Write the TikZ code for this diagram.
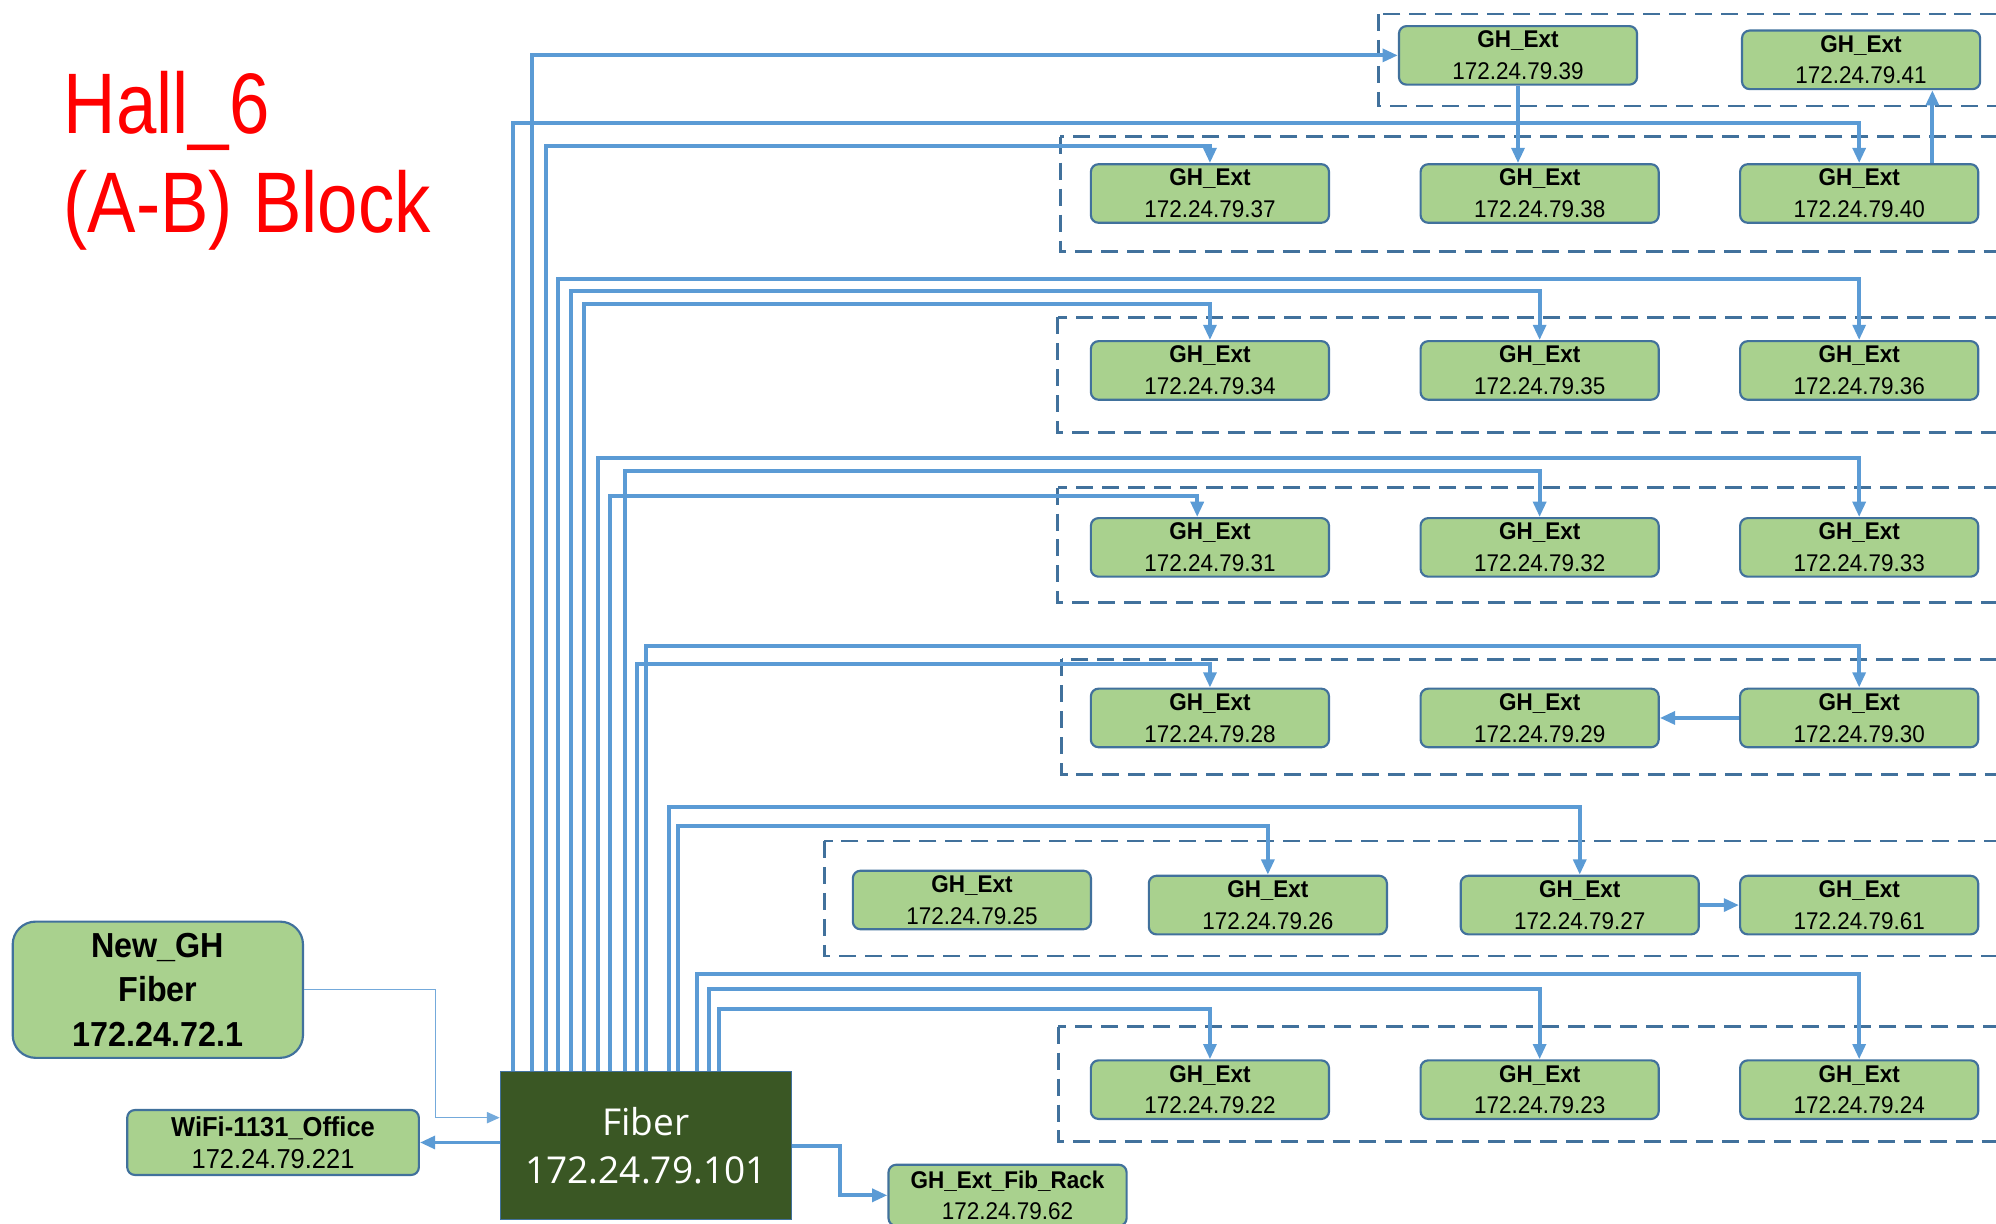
\documentclass[tikz,border=0pt]{standalone}
\usepackage{fontspec}
\usetikzlibrary{arrows.meta,calc}
\newfontfamily\boxfont[FakeStretch=0.93]{Liberation Sans}
\newfontfamily\titlefont[FakeStretch=0.845]{Liberation Sans}
\newfontfamily\fiberfont{Open Sans}
\definecolor{boxgreen}{HTML}{A9D18E}
\definecolor{boxborder}{HTML}{41719C}
\definecolor{connblue}{HTML}{5B9BD5}
\definecolor{grpblue}{HTML}{41719C}
\definecolor{fibgreen}{HTML}{3A5724}
\definecolor{titlered}{HTML}{FF0000}
\begin{document}
\begin{tikzpicture}[x=0.025cm,y=-0.025cm,
  gh/.style={rectangle, rounded corners=0.15cm, draw=boxborder, line width=1.2pt,
    fill=boxgreen, minimum width=4.675cm, minimum height=1.15cm, inner sep=0pt,
    align=center, font=\boxfont\fontsize{13.5}{17.7}\selectfont},
  bigbox/.style={gh, rounded corners=0.45cm, minimum width=5.7cm, minimum height=2.675cm,
    font=\boxfont\fontsize{19.4}{25}\selectfont\bfseries},
  wifibox/.style={gh, minimum width=5.725cm, minimum height=1.275cm,
    font=\boxfont\fontsize{15.3}{18}\selectfont},
  rackbox/.style={gh, minimum width=4.675cm, minimum height=1.2cm},
  fibbox/.style={rectangle, draw=boxborder, line width=0.6pt, fill=fibgreen,
    minimum width=5.725cm, minimum height=2.9cm, inner sep=0pt, align=center,
    text=white, font=\fiberfont\fontsize{20.7}{27.3}\selectfont},
  grp/.style={draw=grpblue, line width=1.6pt, dash pattern=on 9.5pt off 5pt},
  conn/.style={draw=connblue, line width=2.2pt, -{Triangle[length=0.3cm,width=0.25cm]}},
  thinconn/.style={draw=connblue!85, line width=0.7pt, -{Triangle[length=0.25cm,width=0.22cm]}},
  titletext/.style={anchor=base west, inner sep=0pt, text=titlered,
    font=\titlefont\fontsize{48}{55.7}\selectfont}
]
\useasboundingbox (0,0) rectangle (1568,961);

% title
\node[titletext] (title1) at (49.7,104.6) {Hall\_6};
\node[titletext] (title2) at (49.7,183) {(A-B) Block};

% dashed groups
\draw[grp] (1083,11) rectangle (1580,83.3);
\draw[grp] (833,107.4) rectangle (1580,197.7);
\draw[grp] (831,249.3) rectangle (1580,340);
\draw[grp] (831,383) rectangle (1580,473.5);
\draw[grp] (834,518) rectangle (1580,608.3);
\draw[grp] (647.6,660.7) rectangle (1580,751);
\draw[grp] (831.3,806.5) rectangle (1580,896.8);

% boxes
\node[gh] (g39) at (1192.5,43.5) {\textbf{GH\_Ext}\\172.24.79.39};
\node[gh] (g41) at (1462,47) {\textbf{GH\_Ext}\\172.24.79.41};
\node[gh] (g37) at (950.5,152) {\textbf{GH\_Ext}\\172.24.79.37};
\node[gh] (g38) at (1209.5,152) {\textbf{GH\_Ext}\\172.24.79.38};
\node[gh] (g40) at (1460.5,152) {\textbf{GH\_Ext}\\172.24.79.40};
\node[gh] (g34) at (950.5,291) {\textbf{GH\_Ext}\\172.24.79.34};
\node[gh] (g35) at (1209.5,291) {\textbf{GH\_Ext}\\172.24.79.35};
\node[gh] (g36) at (1460.5,291) {\textbf{GH\_Ext}\\172.24.79.36};
\node[gh] (g31) at (950.5,430) {\textbf{GH\_Ext}\\172.24.79.31};
\node[gh] (g32) at (1209.5,430) {\textbf{GH\_Ext}\\172.24.79.32};
\node[gh] (g33) at (1460.5,430) {\textbf{GH\_Ext}\\172.24.79.33};
\node[gh] (g28) at (950.5,564) {\textbf{GH\_Ext}\\172.24.79.28};
\node[gh] (g29) at (1209.5,564) {\textbf{GH\_Ext}\\172.24.79.29};
\node[gh] (g30) at (1460.5,564) {\textbf{GH\_Ext}\\172.24.79.30};
\node[gh] (g25) at (763.5,707) {\textbf{GH\_Ext}\\172.24.79.25};
\node[gh] (g26) at (996,711) {\textbf{GH\_Ext}\\172.24.79.26};
\node[gh] (g27) at (1241,711) {\textbf{GH\_Ext}\\172.24.79.27};
\node[gh] (g61) at (1460.5,711) {\textbf{GH\_Ext}\\172.24.79.61};
\node[gh] (g22) at (950.5,856) {\textbf{GH\_Ext}\\172.24.79.22};
\node[gh] (g23) at (1209.5,856) {\textbf{GH\_Ext}\\172.24.79.23};
\node[gh] (g24) at (1460.5,856) {\textbf{GH\_Ext}\\172.24.79.24};

\node[bigbox] (ngh) at (124,777.5) {New\_GH\\Fiber\\172.24.72.1};
\node[wifibox] (wifi) at (214.5,897.5) {\textbf{WiFi-1131\_Office}\\172.24.79.221};
\node[fibbox] (fib) at (507.5,900) {Fiber\\172.24.79.101};
\node[rackbox] (rack) at (791.5,939) {\textbf{GH\_Ext\_Fib\_Rack}\\172.24.79.62};

% connectors from Fiber
\draw[conn] (418,0 |- fib.north) |- (g39.west);
\draw[conn] (403,0 |- fib.north) -- (403,96.5) -| (g40.north);
\draw[conn] (429,0 |- fib.north) -- (429,114.6) -| (g37.north);
\draw[conn] (438.6,0 |- fib.north) -- (438.6,219.3) -| (g36.north);
\draw[conn] (448.3,0 |- fib.north) -- (448.3,228.7) -| (g35.north);
\draw[conn] (458.5,0 |- fib.north) -- (458.5,238.6) -| (g34.north);
\draw[conn] (470,0 |- fib.north) -- (470,359.8) -| (g33.north);
\draw[conn] (491.2,0 |- fib.north) -- (491.2,370.3) -| (g32.north);
\draw[conn] (479.2,0 |- fib.north) -- (479.2,390) -| ($(g31.north)+(-10,0)$);
\draw[conn] (507.2,0 |- fib.north) -- (507.2,507.5) -| (g30.north);
\draw[conn] (500.1,0 |- fib.north) -- (500.1,521.9) -| (g28.north);
\draw[conn] (525.8,0 |- fib.north) -- (525.8,633.7) -| (g27.north);
\draw[conn] (532.3,0 |- fib.north) -- (532.3,649) -| (g26.north);
\draw[conn] (547.3,0 |- fib.north) -- (547.3,765.4) -| (g24.north);
\draw[conn] (557,0 |- fib.north) -- (557,777) -| (g23.north);
\draw[conn] (565,0 |- fib.north) -- (565,792.4) -| (g22.north);

% box to box
\draw[conn] (g39.south) -- (g39.south |- g38.north);
\draw[conn] (1518,0 |- g40.north) -- (1518,0 |- g41.south);
\draw[conn] (g30.west) -- (g29.east);
\draw[conn] (g27.east) -- (g61.west);

% left side
\draw[thinconn] (ngh.east) -| (342,878) -- (fib.west |- 0,878);
\draw[conn] (fib.west |- wifi.east) -- (wifi.east);
\draw[conn] (fib.east |- 0,900) -- (660,900) |- (rack.west);
\end{tikzpicture}
\end{document}
